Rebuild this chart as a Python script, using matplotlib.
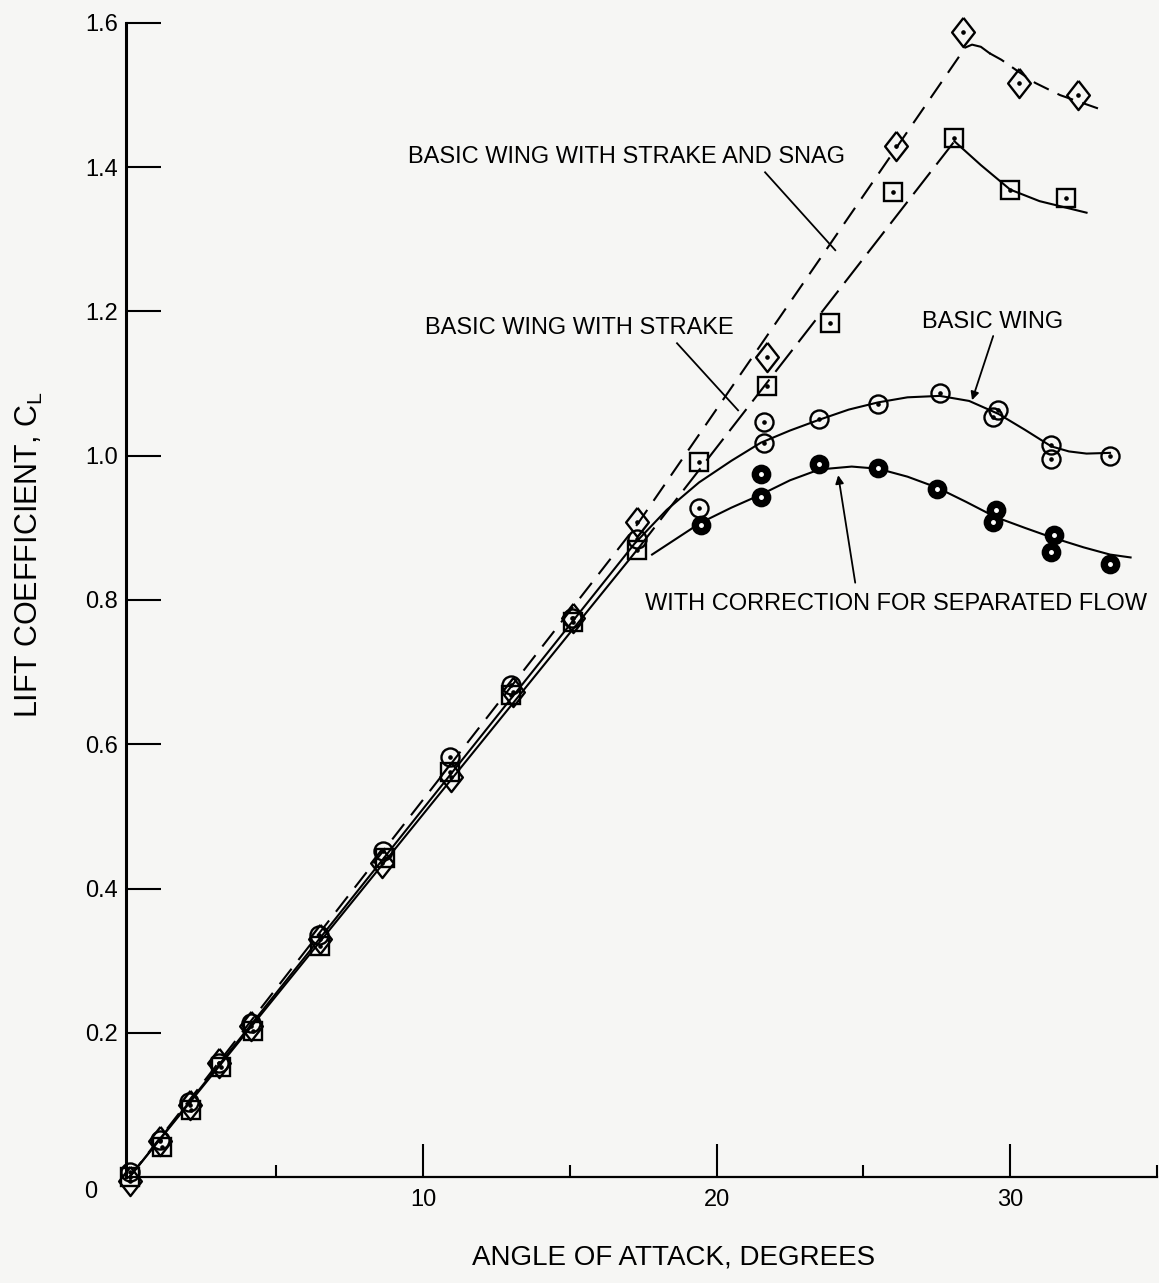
import matplotlib
matplotlib.use('Agg')
import matplotlib.pyplot as plt

plt.rcParams['font.family'] = ['Liberation Sans', 'DejaVu Sans']
plt.rcParams['lines.scale_dashes'] = False

# measured points (angle of attack deg, CL)
basic_alpha = [0.0, 1.05, 2.04, 3.06, 4.15, 6.46, 8.65, 10.9, 13.0, 15.07, 17.3,
               19.4, 21.6, 21.6, 23.5, 25.5, 27.6, 29.6, 29.4, 31.4, 31.4, 33.4]
basic_cl = [0.007, 0.051, 0.104, 0.158, 0.213, 0.335, 0.452, 0.582, 0.682, 0.775, 0.885,
            0.928, 1.047, 1.017, 1.051, 1.072, 1.087, 1.064, 1.054, 1.015, 0.996, 0.999]

strake_alpha = [0.0, 1.1, 2.1, 3.1, 4.2, 6.5, 8.7, 10.9, 13.0, 15.1, 17.3,
                19.4, 21.7, 23.85, 26.0, 28.1, 30.0, 31.9]
strake_cl = [0.0, 0.042, 0.093, 0.152, 0.203, 0.320, 0.442, 0.562, 0.668, 0.770, 0.870,
             0.992, 1.097, 1.184, 1.365, 1.441, 1.368, 1.358]

snag_alpha = [0.0, 1.05, 2.05, 3.06, 4.15, 6.5, 8.6, 10.95, 13.05, 15.1, 17.3,
              21.7, 26.1, 28.4, 30.3, 32.3]
snag_cl = [-0.005, 0.05, 0.10, 0.158, 0.21, 0.33, 0.435, 0.555, 0.672, 0.775, 0.908,
           1.137, 1.429, 1.587, 1.517, 1.50]

corr_alpha = [19.45, 21.5, 21.5, 23.5, 25.5, 27.5, 29.5, 29.4, 31.5, 31.4, 33.4]
corr_cl = [0.904, 0.975, 0.943, 0.989, 0.983, 0.954, 0.925, 0.908, 0.890, 0.867, 0.850]

# faired curves
basic_fair_a = [0.0, 17.2, 18.3, 19.4, 20.5, 21.5, 22.5, 23.5, 24.5, 25.5, 26.5,
                27.6, 28.6, 29.6, 30.5, 31.4, 32.0, 32.6, 33.4]
basic_fair_cl = [0.0, 0.878, 0.925, 0.963, 0.993, 1.018, 1.035, 1.05, 1.064, 1.074, 1.081,
                 1.083, 1.076, 1.058, 1.036, 1.013, 1.006, 1.003, 1.004]

corr_fair_a = [17.8, 19.45, 20.5, 21.5, 22.5, 23.5, 24.6, 25.5, 26.5, 27.5, 28.5,
               29.5, 30.5, 31.4, 32.5, 33.4, 34.1]
corr_fair_cl = [0.863, 0.907, 0.928, 0.946, 0.966, 0.981, 0.985, 0.982, 0.971, 0.956, 0.936,
                0.915, 0.900, 0.887, 0.873, 0.863, 0.859]

strake_lin_a = [0.0, 17.3]
strake_lin_cl = [0.0, 0.870]
strake_rise_a = [17.3, 28.1]
strake_rise_cl = [0.870, 1.436]
strake_drop_a = [28.1, 29.0, 30.0, 31.0, 32.0, 32.6]
strake_drop_cl = [1.436, 1.403, 1.369, 1.353, 1.343, 1.337]

snag_rise_a = [0.0, 17.3, 28.47]
snag_rise_cl = [0.0, 0.905, 1.566]
snag_hook_a = [28.47, 28.7, 29.0, 29.3]
snag_hook_cl = [1.566, 1.570, 1.567, 1.558]
snag_drop_a = [29.3, 29.7, 30.3, 30.85, 31.7, 32.4, 33.1]
snag_drop_cl = [1.558, 1.549, 1.532, 1.517, 1.50, 1.49, 1.48]

bg = '#f6f6f4'
fig = plt.figure(figsize=(11.59, 12.83), dpi=100, facecolor=bg)
ax = fig.add_axes([126 / 1159, 106 / 1283, 1031 / 1159, 1154 / 1283])
ax.set_facecolor(bg)

lw = 1.5
# curves
ax.plot(basic_fair_a, basic_fair_cl, color='k', lw=lw)
ax.plot(corr_fair_a, corr_fair_cl, color='k', lw=lw)
ax.plot(strake_lin_a, strake_lin_cl, color='k', lw=lw)
ax.plot(strake_rise_a, strake_rise_cl, color='k', lw=lw, dashes=(20, 7))
ax.plot(strake_drop_a, strake_drop_cl, color='k', lw=lw)
ax.plot(snag_rise_a, snag_rise_cl, color='k', lw=lw, dashes=(14, 8))
ax.plot(snag_hook_a, snag_hook_cl, color='k', lw=lw)
ax.plot(snag_drop_a, snag_drop_cl, color='k', lw=lw, dashes=(12, 7))

# markers
diamond = [(0, 1), (0.78, 0), (0, -1), (-0.78, 0), (0, 1)]
mk = dict(linestyle='none', markeredgecolor='k', markeredgewidth=1.7, clip_on=False, zorder=3)
ax.plot(snag_alpha, snag_cl, marker=diamond, markersize=21, markerfacecolor='none', **mk)
ax.plot(strake_alpha, strake_cl, marker='s', markersize=12.5, markerfacecolor='none', **mk)
ax.plot(basic_alpha, basic_cl, marker='o', markersize=13, markerfacecolor='none', **mk)
ax.plot(corr_alpha, corr_cl, marker='o', markersize=12.5, markerfacecolor='k', **mk)
for a, c in [(snag_alpha, snag_cl), (strake_alpha, strake_cl), (basic_alpha, basic_cl)]:
    ax.plot(a, c, linestyle='none', marker='o', markersize=2.3, color='k', clip_on=False, zorder=4)
ax.plot(corr_alpha, corr_cl, linestyle='none', marker='o', markersize=2.5, color='w', clip_on=False, zorder=4)

# axes styling
ax.set_xlim(-0.12, 35)
ax.set_ylim(0, 1.6)
ax.spines['top'].set_visible(False)
ax.spines['right'].set_visible(False)
ax.spines['left'].set_linewidth(2.2)
ax.spines['bottom'].set_linewidth(1.6)
ax.set_yticks([0.2, 0.4, 0.6, 0.8, 1.0, 1.2, 1.4, 1.6])
ax.set_yticklabels(['0.2', '0.4', '0.6', '0.8', '1.0', '1.2', '1.4', '1.6'])
ax.set_xticks([10, 20, 30])
ax.set_xticklabels(['10', '20', '30'])
ax.set_xticks([5, 15, 25, 35], minor=True)
ax.tick_params(axis='y', direction='in', length=25, width=1.5, pad=6, labelsize=17)
ax.tick_params(axis='x', which='major', direction='in', length=24, width=1.5, pad=9, labelsize=17)
ax.tick_params(axis='x', which='minor', direction='in', length=9, width=1.5)
ax.annotate('0', xy=(0, 0), xycoords='data', xytext=(-28, -11), textcoords='offset points',
            ha='center', va='center', fontsize=17)

# labels
fig.text(0.581, 0.0195, 'ANGLE OF ATTACK, DEGREES', ha='center', va='center', fontsize=20)
fig.text(0.025, 0.568, r'LIFT COEFFICIENT, C$_\mathregular{L}$', ha='center', va='center',
         rotation=90, fontsize=22)

# annotations
tf = dict(fontsize=17, ha='left', va='center')
ax.text(9.49, 1.414, 'BASIC WING WITH STRAKE AND SNAG', **tf)
ax.plot([21.65, 24.04], [1.393, 1.285], color='k', lw=1.3)
ax.text(10.07, 1.177, 'BASIC WING WITH STRAKE', **tf)
ax.plot([18.65, 20.73], [1.156, 1.063], color='k', lw=1.3)
ax.text(27.0, 1.185, 'BASIC WING', **tf)
ax.annotate('', xy=(28.7, 1.077), xytext=(29.42, 1.166),
            arrowprops=dict(arrowstyle='-|>', color='k', lw=1.3, mutation_scale=12, shrinkA=0, shrinkB=0))
ax.text(17.56, 0.794, 'WITH CORRECTION FOR SEPARATED FLOW', **tf)
ax.annotate('', xy=(24.14, 0.973), xytext=(24.72, 0.824),
            arrowprops=dict(arrowstyle='-|>', color='k', lw=1.3, mutation_scale=12, shrinkA=0, shrinkB=0))

fig.savefig('out.png', dpi=100, facecolor=bg)
